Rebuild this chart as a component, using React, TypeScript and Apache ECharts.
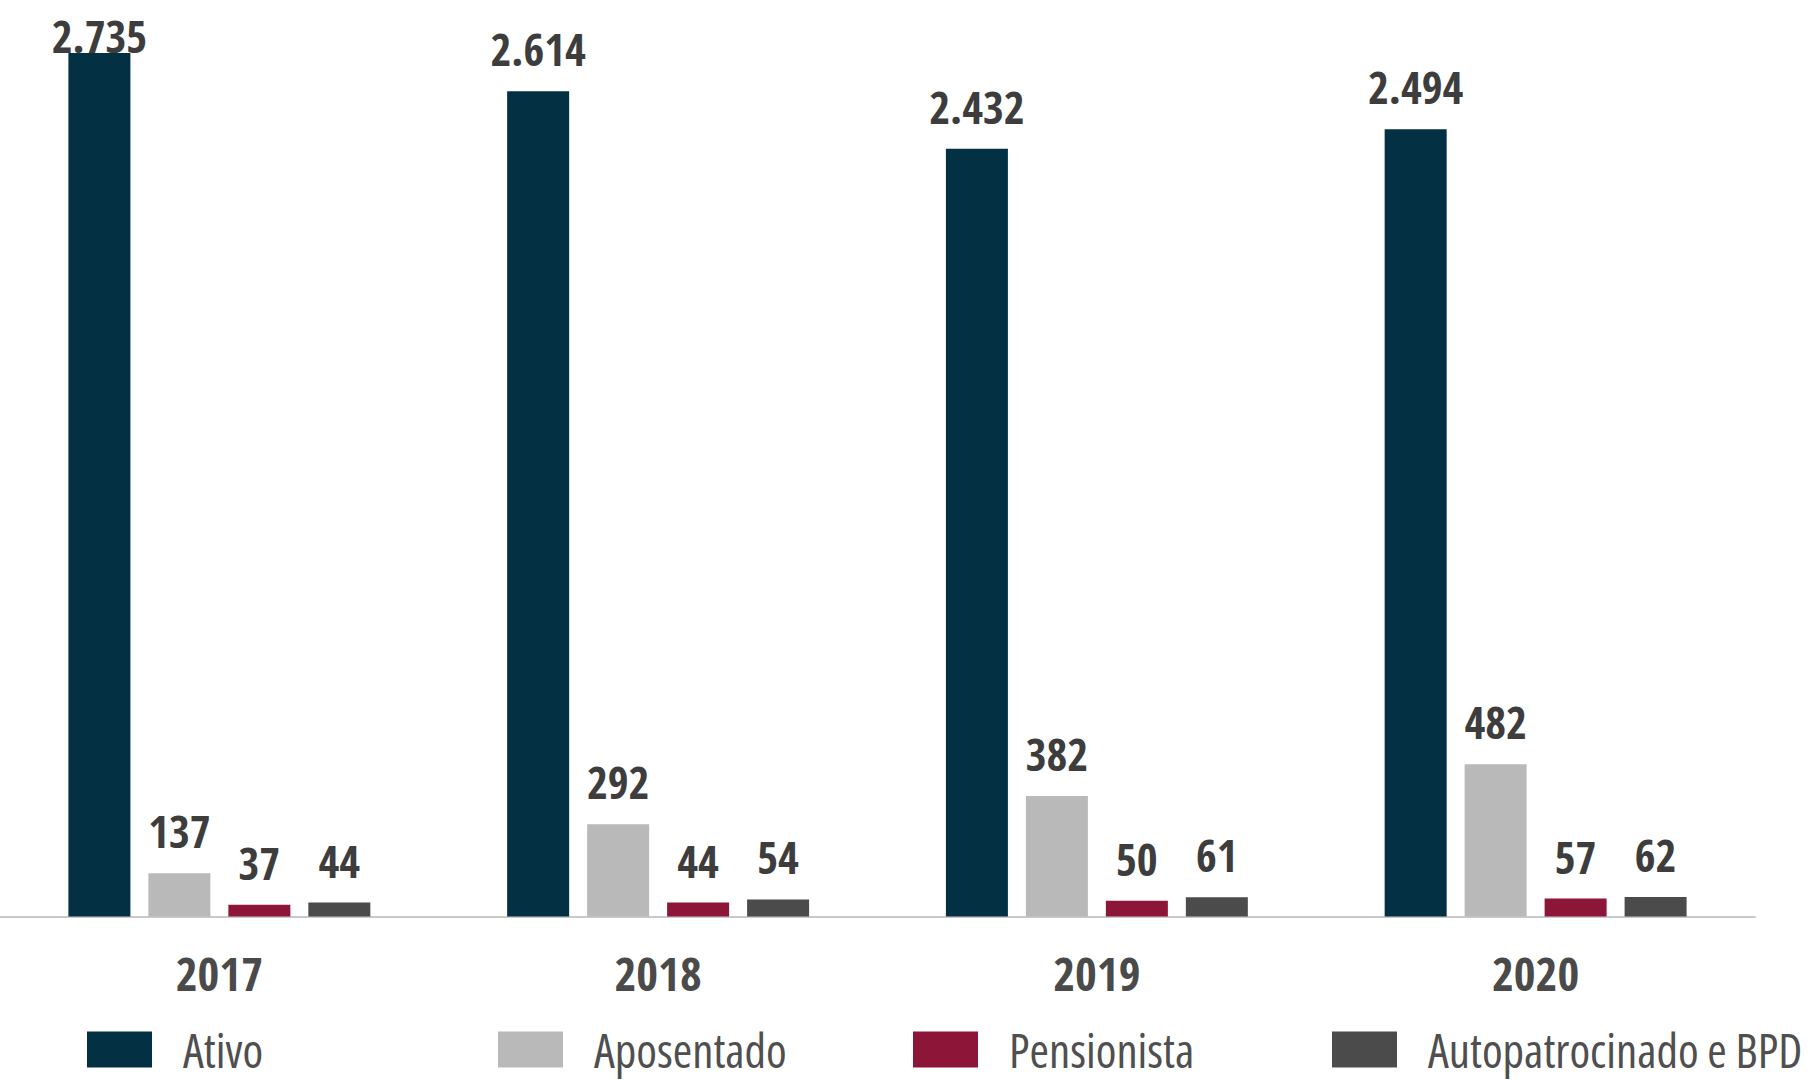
import React, { useEffect, useRef } from "react";
import * as echarts from "echarts";

const years = ["2017", "2018", "2019", "2020"];
const seriesNames = ["Ativo", "Aposentado", "Pensionista", "Autopatrocinado e BPD"];
const ativo = [2735, 2614, 2432, 2494];
const aposentado = [137, 292, 382, 482];
const pensionista = [37, 44, 50, 57];
const autopatrocinado = [44, 54, 61, 62];
const colors = ["#033043", "#b9b9b9", "#8c1538", "#4b4b4b"];

const FONT = '"Open Sans Condensed", "DejaVu Sans Condensed", sans-serif';
const LEGEND_FONT = '"Open Sans", "DejaVu Sans Condensed", sans-serif';
const fmt = (v: number) => v.toLocaleString("de-DE");

export default function App() {
  const ref = useRef<HTMLDivElement>(null);
  useEffect(() => {
    if (!ref.current) return;
    const chart = echarts.init(ref.current, undefined, { renderer: "svg" });
    const values = [ativo, aposentado, pensionista, autopatrocinado];
    const legendX = [87, 498, 913, 1332];
    const series = values.map((arr, si) => ({
      name: seriesNames[si],
      type: "bar",
      barWidth: 62,
      barGap: "29%",
      itemStyle: { color: colors[si] },
      label: {
        show: true,
        position: "top",
        distance: 20,
        formatter: (p: any) => fmt(p.value),
        fontFamily: FONT,
        fontWeight: "bold",
        fontSize: 45,
        lineHeight: 45,
        color: "#3d3d3d",
      },
      data: arr.map((v, i) =>
        si === 0 && i === 0 ? { value: v, label: { distance: -5 } } : v
      ),
    }));
    chart.setOption({
      animation: false,
      backgroundColor: "#ffffff",
      grid: { left: 0, top: 1, width: 1755, height: 915.5, containLabel: false },
      xAxis: {
        type: "category",
        data: years,
        axisLine: { show: true, lineStyle: { color: "#c9c9c9", width: 2 } },
        axisTick: { show: false },
        axisLabel: {
          margin: 33,
          fontFamily: FONT,
          fontWeight: "bold",
          fontSize: 47,
          lineHeight: 47,
          color: "#4a4a4a",
        },
      },
      yAxis: { type: "value", min: 0, max: 2900, show: false, splitLine: { show: false } },
      legend: seriesNames.map((n, i) => ({
        data: [n],
        left: legendX[i],
        top: 1026,
        padding: 0,
        itemWidth: 65,
        itemHeight: 36,
        icon: "rect",
        textStyle: {
          fontFamily: LEGEND_FONT,
          fontSize: 47,
          lineHeight: 46,
          color: "#4f4f4f",
          padding: [0, 0, 0, 26],
        },
      })),
      series,
    });
    return () => chart.dispose();
  }, []);
  return (
    <>
      <style>{"svg text { font-stretch: 75% !important; }"}</style>
      <div
        ref={ref}
        style={{ position: "absolute", left: 0, top: 0, width: 1819, height: 1082 }}
      />
    </>
  );
}
